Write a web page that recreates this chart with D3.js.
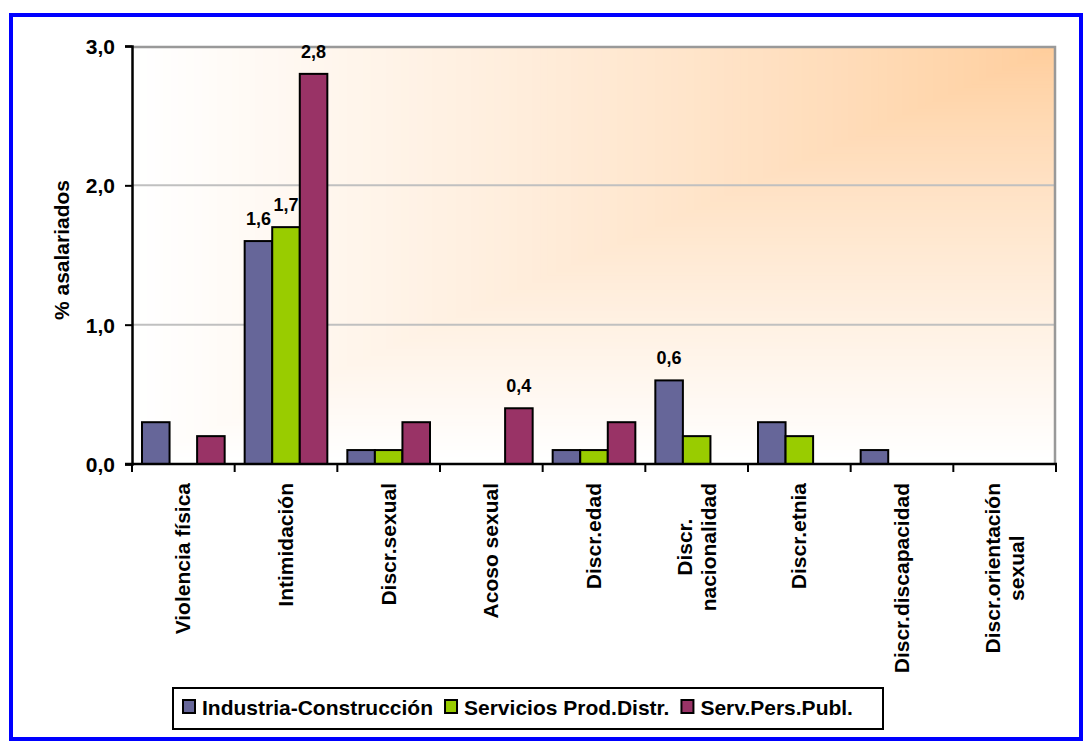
<!DOCTYPE html>
<html>
<head>
<meta charset="utf-8">
<script src="https://cdn.jsdelivr.net/npm/d3@7"></script>
<style>
  html, body { margin: 0; padding: 0; background: #ffffff; }
  svg { display: block; }
  text { font-family: "Liberation Sans", Arial, Helvetica, sans-serif; font-weight: bold; fill: #000; }
</style>
</head>
<body>
<svg id="chart" width="1089" height="749"></svg>
<script>
// Categories (line breaks marked with \n)
const categories = [
  "Violencia física",
  "Intimidación",
  "Discr.sexual",
  "Acoso sexual",
  "Discr.edad",
  "Discr.\nnacionalidad",
  "Discr.etnia",
  "Discr.discapacidad",
  "Discr.orientación\nsexual"
];

const seriesNames = ["Industria-Construcción", "Servicios Prod.Distr.", "Serv.Pers.Publ."];
const seriesColors = ["#666699", "#99CC00", "#993366"];

// % asalariados per category
const industria = [0.3, 1.6, 0.1, 0.0, 0.1, 0.6, 0.3, 0.1, 0.0];
const servicios = [0.0, 1.7, 0.1, 0.0, 0.1, 0.2, 0.2, 0.0, 0.0];
const servPers  = [0.2, 2.8, 0.3, 0.4, 0.3, 0.0, 0.0, 0.0, 0.0];

// Category indices whose bar carries a value label, per series
const labeledIndustria = [1, 5];
const labeledServicios = [1];
const labeledServPers  = [1, 3];

const yTicks = [0, 1, 2, 3];

const seriesValues = [industria, servicios, servPers];
const seriesLabeled = [labeledIndustria, labeledServicios, labeledServPers];

const svg = d3.select("#chart");
const fmt = v => d3.format(".1f")(v).replace(".", ",");

// Outer frame
svg.append("rect")
  .attr("x", 11).attr("y", 15).attr("width", 1070).attr("height", 724)
  .attr("fill", "#ffffff").attr("stroke", "#0000FF").attr("stroke-width", 4);

// Plot area
const plot = { left: 132, top: 46, right: 1056, bottom: 464 };
const W = plot.right - plot.left, H = plot.bottom - plot.top;

const x = d3.scaleBand().domain(d3.range(categories.length)).range([plot.left, plot.right]).paddingInner(0).paddingOuter(0);
const xs = d3.scaleBand().domain(d3.range(seriesNames.length)).range([10, x.bandwidth() - 10]).padding(0);
const y = d3.scaleLinear().domain([0, 3]).range([plot.bottom, plot.top]);

// Corner gradient fill: orange at top-right corner fading to white
const bg = svg.append("g");
const cornerColor = d3.interpolateRgb("#FFCC99", "#FFFFFF");
const steps = 120;
for (let i = steps; i >= 1; i--) {
  const s = i / steps;
  const t = Math.pow(s, 0.8);
  bg.append("rect")
    .attr("x", plot.right - s * W).attr("y", plot.top)
    .attr("width", s * W).attr("height", s * H)
    .attr("fill", cornerColor(t));
}

// Gridlines
svg.append("g").selectAll("line")
  .data(yTicks.filter(d => d > 0 && d < 3))
  .join("line")
  .attr("x1", plot.left).attr("x2", plot.right)
  .attr("y1", d => y(d)).attr("y2", d => y(d))
  .attr("stroke", "#C0C0C0").attr("stroke-width", 2);

// Plot area border (top and right)
svg.append("path")
  .attr("d", `M${plot.left},${plot.top + 1}H${plot.right - 1}V${plot.bottom}`)
  .attr("fill", "none").attr("stroke", "#999999").attr("stroke-width", 2.5);

// Bars
const barsG = svg.append("g");
seriesValues.forEach((vals, si) => {
  barsG.append("g").selectAll("rect")
    .data(vals.map((v, ci) => ({ v, ci })).filter(d => d.v > 0))
    .join("rect")
    .attr("x", d => x(d.ci) + xs(si))
    .attr("y", d => y(d.v))
    .attr("width", xs.bandwidth())
    .attr("height", d => y(0) - y(d.v))
    .attr("fill", seriesColors[si])
    .attr("stroke", "#000").attr("stroke-width", 2);
});

// Value labels
seriesLabeled.forEach((idxs, si) => {
  svg.append("g").selectAll("text")
    .data(idxs)
    .join("text")
    .attr("x", ci => x(ci) + xs(si) + xs.bandwidth() / 2)
    .attr("y", ci => y(seriesValues[si][ci]) - 16)
    .attr("text-anchor", "middle")
    .attr("font-size", 18)
    .text(ci => fmt(seriesValues[si][ci]));
});

// Y axis
const yAxis = d3.axisLeft(y).tickValues(yTicks).tickSize(7).tickPadding(10).tickFormat(fmt);
const yG = svg.append("g").attr("transform", `translate(${plot.left},0)`).call(yAxis);
yG.attr("font-family", null).attr("font-size", null);
yG.select(".domain").attr("stroke", "#000").attr("stroke-width", 2.5);
yG.selectAll(".tick line").attr("stroke", "#000").attr("stroke-width", 2);
yG.selectAll(".tick text").attr("font-size", 21).attr("fill", "#000").attr("dy", "0.36em");

// X axis with ticks at category boundaries
svg.append("line")
  .attr("x1", plot.left - 7).attr("x2", plot.right + 1)
  .attr("y1", plot.bottom).attr("y2", plot.bottom)
  .attr("stroke", "#000").attr("stroke-width", 2.5);
svg.append("g").selectAll("line")
  .data(d3.range(categories.length + 1))
  .join("line")
  .attr("x1", i => plot.left + i * x.step()).attr("x2", i => plot.left + i * x.step())
  .attr("y1", plot.bottom).attr("y2", plot.bottom + 8)
  .attr("stroke", "#000").attr("stroke-width", 2);

// Category labels, rotated
const labelTop = 483;
const lineGap = 24;
const catG = svg.append("g");
categories.forEach((name, ci) => {
  const lines = name.split("\n");
  const cx = x(ci) + x.bandwidth() / 2;
  const g = catG.append("g");
  const texts = lines.map((ln, li) => {
    const bx = cx + 7 + (li - (lines.length - 1) / 2) * lineGap;
    return g.append("text")
      .attr("font-size", 21)
      .attr("text-anchor", "middle")
      .attr("data-bx", bx)
      .text(ln);
  });
  const maxLen = d3.max(texts, t => t.node().getComputedTextLength());
  const midY = labelTop + maxLen / 2;
  texts.forEach(t => {
    t.attr("transform", `translate(${+t.attr("data-bx")},${midY}) rotate(-90)`).attr("data-bx", null);
  });
});

// Y axis title
svg.append("text")
  .attr("transform", "translate(69,250) rotate(-90)")
  .attr("text-anchor", "middle")
  .attr("font-size", 21)
  .text("% asalariados");

// Legend
const legend = { x: 173, y: 688, w: 710, h: 41 };
svg.append("rect")
  .attr("x", legend.x).attr("y", legend.y).attr("width", legend.w).attr("height", legend.h)
  .attr("fill", "#ffffff").attr("stroke", "#000").attr("stroke-width", 2);
let lx = legend.x + 10;
seriesNames.forEach((name, si) => {
  svg.append("rect")
    .attr("x", lx).attr("y", legend.y + 12).attr("width", 12).attr("height", 13)
    .attr("fill", seriesColors[si]).attr("stroke", "#000").attr("stroke-width", 2);
  const t = svg.append("text")
    .attr("x", lx + 19).attr("y", legend.y + 27)
    .attr("font-size", 21)
    .text(name);
  lx += 19 + t.node().getComputedTextLength() + 12;
});
</script>
</body>
</html>
